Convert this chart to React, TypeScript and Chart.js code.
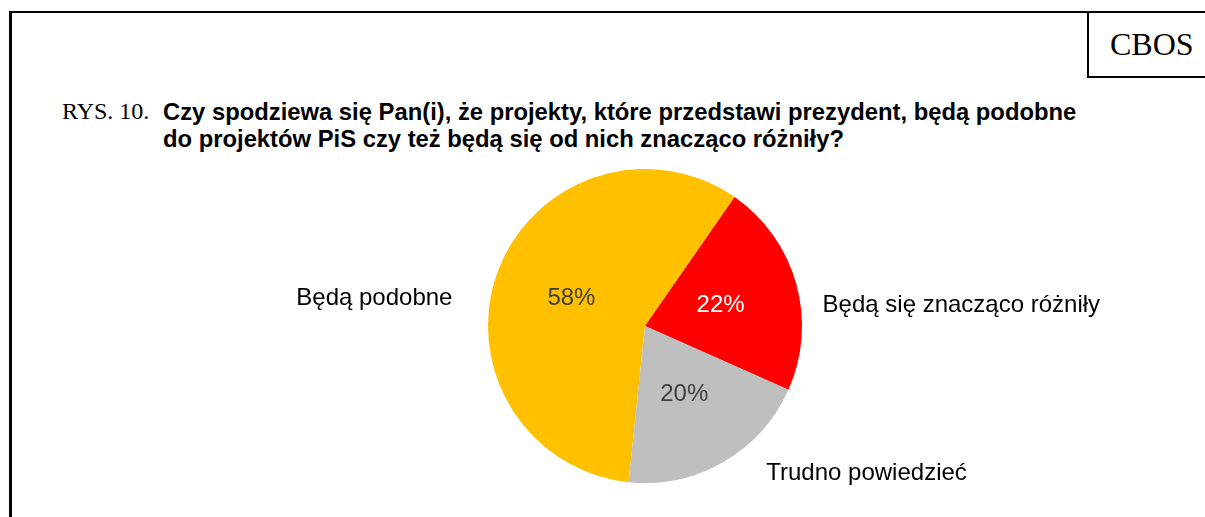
import React, { useEffect, useRef } from "react";
import { Chart, registerables } from "chart.js";

Chart.register(...registerables);

const categories = ["Będą podobne", "Będą się znacząco różniły", "Trudno powiedzieć"];
const values = [58, 22, 20];
const sliceColors = ["#FFC000", "#FF0000", "#BFBFBF"];
const valueTextColors = ["#404040", "#FFFFFF", "#404040"];
// outer label placement relative to the in-slice value label: [dx, dy, align]
const outerLabelLayout: [number, number, CanvasTextAlign][] = [
  [-119, 0, "right"],
  [102, 0, "left"],
  [82, 79, "left"],
];

const FONT = '"Liberation Sans", Arial, sans-serif';
const SERIF = '"Liberation Serif", "Times New Roman", serif';

const labelPlugin = {
  id: "sliceLabels",
  afterDatasetsDraw(chart: any) {
    const ctx = chart.ctx;
    const meta = chart.getDatasetMeta(0);
    ctx.save();
    ctx.textBaseline = "middle";
    ctx.font = `24px ${FONT}`;
    meta.data.forEach((arc: any, i: number) => {
      const { x, y, startAngle, endAngle, outerRadius } = arc.getProps(
        ["x", "y", "startAngle", "endAngle", "outerRadius"],
        true
      );
      const mid = (startAngle + endAngle) / 2;
      const r = outerRadius * 0.5;
      const lx = x + Math.cos(mid) * r;
      const ly = y + Math.sin(mid) * r;
      ctx.fillStyle = valueTextColors[i];
      ctx.textAlign = "center";
      ctx.fillText(`${values[i]}%`, lx, ly);
      const [dx, dy, align] = outerLabelLayout[i];
      ctx.fillStyle = "#000000";
      ctx.textAlign = align;
      ctx.fillText(categories[i], lx + dx, ly + dy);
    });
    ctx.restore();
  },
};

export default function App() {
  const ref = useRef<HTMLCanvasElement>(null);
  useEffect(() => {
    if (!ref.current) return;
    const chart = new Chart(ref.current, {
      type: "pie",
      data: {
        labels: categories,
        datasets: [
          {
            data: values,
            backgroundColor: sliceColors,
            borderWidth: 0,
          },
        ],
      },
      options: {
        animation: false,
        responsive: false,
        devicePixelRatio: 1,
        rotation: 186,
        layout: { padding: { left: 488, right: 403, top: 169, bottom: 34 } },
        plugins: {
          legend: { display: false },
          tooltip: { enabled: false },
          title: { display: false },
        },
      },
      plugins: [labelPlugin],
    });
    return () => chart.destroy();
  }, []);

  return (
    <div style={{ position: "absolute", left: 0, top: 0, width: 1205, height: 517, overflow: "hidden", background: "#fff" }}>
      <div
        style={{
          position: "absolute",
          left: 9,
          top: 11,
          width: 1300,
          height: 700,
          borderTop: "2px solid #000",
          borderLeft: "3px solid #000",
          boxSizing: "border-box",
        }}
      />
      <div
        style={{
          position: "absolute",
          left: 1087,
          top: 11,
          width: 200,
          height: 67,
          borderLeft: "2px solid #000",
          borderBottom: "2px solid #000",
          borderTop: "2px solid #000",
          boxSizing: "border-box",
        }}
      />
      <div
        style={{
          position: "absolute",
          left: 1110,
          top: 26,
          fontFamily: SERIF,
          fontSize: 32,
          lineHeight: "36px",
          color: "#000",
          whiteSpace: "nowrap",
        }}
      >
        CBOS
      </div>
      <div
        style={{
          position: "absolute",
          left: 62,
          top: 98,
          fontFamily: SERIF,
          fontSize: 24,
          lineHeight: "27px",
          color: "#000",
          whiteSpace: "nowrap",
        }}
      >
        RYS. 10.
      </div>
      <div
        style={{
          position: "absolute",
          left: 163,
          top: 98,
          width: 1000,
          fontFamily: FONT,
          fontWeight: "bold",
          fontSize: 23.8,
          lineHeight: "27px",
          color: "#000",
          whiteSpace: "nowrap",
        }}
      >
        Czy spodziewa się Pan(i), że projekty, które przedstawi prezydent, będą podobne
        <br />
        do projektów PiS czy też będą się od nich znacząco różniły?
      </div>
      <canvas ref={ref} width={1205} height={517} style={{ position: "absolute", left: 0, top: 0 }} />
    </div>
  );
}
